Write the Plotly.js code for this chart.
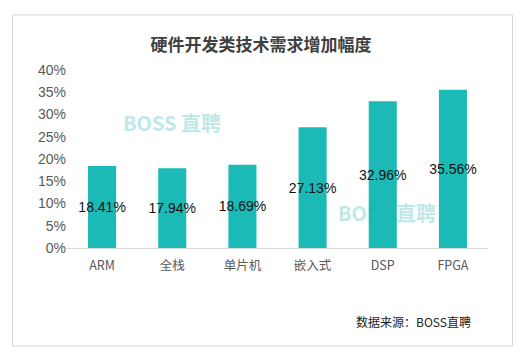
<!DOCTYPE html>
<html><head><meta charset="utf-8">
<script src="https://cdn.plot.ly/plotly-3.0.1.min.js"></script>
<style>html,body{margin:0;padding:0;background:#fff}#chart{width:528px;height:360px}</style>
</head><body><div id="chart"></div>
<script>
const categories = ['ARM', '全栈', '单片机', '嵌入式', 'DSP', 'FPGA'];
const values = [0.1841, 0.1794, 0.1869, 0.2713, 0.3296, 0.3556];
const valueLabels = ['18.41%', '17.94%', '18.69%', '27.13%', '32.96%', '35.56%'];
const yTickVals = [0, 0.05, 0.10, 0.15, 0.20, 0.25, 0.30, 0.35, 0.40];
const titleText = '硬件开发类技术需求增加幅度';
const sourceText = '数据来源：BOSS直聘';
const watermarkText = 'BOSS 直聘';

const W = 528, H = 360;
const L = 67, R = 40, T = 70, B = 112;
const pw = W - L - R, ph = H - T - B;
const px = x => (x - L) / pw;
const py = y => (H - B - y) / ph;

const cjk = '"Noto Sans CJK SC", "Liberation Sans", sans-serif';
const latin = '"Liberation Sans", Arial, "Noto Sans CJK SC", sans-serif';

const watermark = {
  type: 'scatter', mode: 'text', xaxis: 'x', yaxis: 'y',
  x: [px(172), px(387)], y: [py(126), py(216)],
  text: [watermarkText, watermarkText],
  textfont: {family: '"Noto Sans CJK SC", sans-serif', size: 20, color: '#bfe9e7', weight: 'bold'},
  hoverinfo: 'skip', showlegend: false
};

const bars = {
  type: 'bar', xaxis: 'x2', yaxis: 'y2',
  x: categories, y: values,
  text: valueLabels,
  textposition: 'inside', insidetextanchor: 'middle',
  textangle: 0, constraintext: 'none',
  insidetextfont: {family: latin, size: 14, color: '#111'},
  marker: {color: '#1bbab6', line: {width: 0}},
  width: 0.4, hoverinfo: 'skip', showlegend: false
};

const layout = {
  width: W, height: H,
  margin: {l: L, r: R, t: T, b: B},
  paper_bgcolor: '#fff', plot_bgcolor: 'rgba(0,0,0,0)',
  showlegend: false,
  title: {text: titleText, x: (261) / W, xanchor: 'center', y: 1 - 45 / H, yanchor: 'middle',
          font: {family: cjk, size: 17, color: '#404040', weight: 'bold'}},
  xaxis: {range: [0, 1], visible: false, fixedrange: true},
  yaxis: {range: [0, 1], visible: false, fixedrange: true},
  xaxis2: {overlaying: 'x', type: 'category', showgrid: false, zeroline: false,
           showline: true, linecolor: '#d9d9d9', linewidth: 1, ticks: '',
           tickfont: {family: cjk, size: 12.5, color: '#595959'}, ticklabelstandoff: 6},
  yaxis2: {overlaying: 'y', range: [0, 0.4], tickvals: yTickVals, tickformat: '.0%',
           showgrid: false, zeroline: false, showline: false, ticks: '',
           tickfont: {family: latin, size: 14, color: '#595959'}},
  shapes: [{type: 'rect', xref: 'paper', yref: 'paper',
            x0: px(12.5), x1: px(512.5), y0: py(346), y1: py(15),
            line: {color: '#d6d6d6', width: 1}, fillcolor: 'rgba(0,0,0,0)', layer: 'below'}],
  annotations: [{text: sourceText, xref: 'paper', yref: 'paper', x: px(473), y: py(321),
                 xanchor: 'right', yanchor: 'middle', showarrow: false,
                 font: {family: cjk, size: 12, color: '#222'}}]
};

Plotly.newPlot('chart', [watermark, bars], layout, {staticPlot: true, displayModeBar: false});
</script></body></html>
